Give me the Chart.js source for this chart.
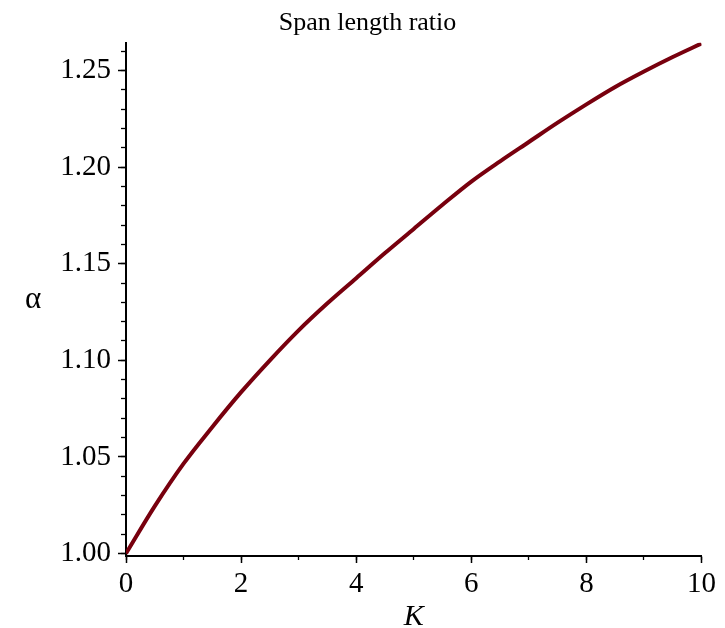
<!DOCTYPE html>
<html>
<head>
<meta charset="utf-8">
<script src="https://cdn.jsdelivr.net/npm/chart.js@4.4.1/dist/chart.umd.min.js"></script>
<style>
html,body{margin:0;padding:0;background:#fff;}
#wrap{width:725px;height:628px;}
</style>
</head>
<body>
<div id="wrap"><canvas id="c" width="725" height="628"></canvas></div>
<script>
// ---- data ----
const chartTitle = 'Span length ratio';
const xTitle = 'K';
const yTitle = 'α';
const kValues = [0, 0.5, 1, 1.5, 2, 2.5, 3, 3.5, 4, 4.5, 5, 5.5, 6, 6.5, 7, 7.5, 8, 8.5, 9, 9.5, 10];
const alphaValues = [1.000, 1.0245, 1.0465, 1.0655, 1.0835, 1.1000, 1.1155, 1.1295, 1.1425, 1.1555, 1.1680,
                     1.1805, 1.1925, 1.2030, 1.2130, 1.2230, 1.2325, 1.2415, 1.2495, 1.2570, 1.2640];
const xMajorTicks = [0, 2, 4, 6, 8, 10];
const xMinorTicks = [0, 1, 2, 3, 4, 5, 6, 7, 8, 9, 10];
const yMajorTicks = [1.00, 1.05, 1.10, 1.15, 1.20, 1.25];
const yMinorTicks = [1.00, 1.01, 1.02, 1.03, 1.04, 1.05, 1.06, 1.07, 1.08, 1.09, 1.10, 1.11, 1.12, 1.13,
                     1.14, 1.15, 1.16, 1.17, 1.18, 1.19, 1.20, 1.21, 1.22, 1.23, 1.24, 1.25, 1.26];

const FONT = '"Liberation Serif", "Times New Roman", serif';
const LINE_COLOR = '#78000E';
const X_MIN = 0, X_MAX = 10, Y_MIN = 0.9987, Y_MAX = 1.2644;

const setTicks = arr => scale => { scale.ticks = arr.map(v => ({ value: v })); };
const setPad = (s, r) => { s.paddingLeft = 0; s.paddingRight = r || 0; s.paddingTop = 0; s.paddingBottom = 0; };

const alphaLabel = {
  id: 'alphaLabel',
  afterDraw(chart) {
    const { ctx, chartArea } = chart;
    ctx.save();
    ctx.font = '31px ' + FONT;
    ctx.fillStyle = '#000';
    ctx.textAlign = 'center';
    ctx.textBaseline = 'middle';
    ctx.fillText(yTitle, 33, (chartArea.top + chartArea.bottom) / 2 + 1);
    ctx.restore();
  }
};

new Chart(document.getElementById('c'), {
  type: 'line',
  data: {
    datasets: [{
      data: kValues.map((k, i) => ({ x: k, y: alphaValues[i] })),
      borderColor: LINE_COLOR,
      backgroundColor: LINE_COLOR,
      borderWidth: 4,
      pointRadius: 0,
      cubicInterpolationMode: 'monotone',
      fill: false,
      xAxisID: 'x',
      yAxisID: 'y'
    }]
  },
  options: {
    responsive: false,
    animation: false,
    devicePixelRatio: 1,
    layout: { padding: { left: 10, right: 0, top: 0, bottom: 0 } },
    plugins: {
      legend: { display: false },
      tooltip: { enabled: false },
      title: {
        display: true,
        text: chartTitle,
        color: '#000',
        font: { family: FONT, size: 26, weight: 'normal', lineHeight: 1.2 },
        padding: { top: 7.3, bottom: 4.2 }
      }
    },
    scales: {
      x: {
        type: 'linear', position: 'bottom', weight: 1,
        min: X_MIN, max: X_MAX,
        afterBuildTicks: setTicks(xMajorTicks),
        ticks: { color: '#000', font: { family: FONT, size: 29 }, padding: 4, maxRotation: 0, autoSkip: false,
                 callback: v => String(v) },
        grid: { drawOnChartArea: false, drawTicks: true, tickLength: 7, tickColor: '#000', tickWidth: 1.5 },
        border: { display: true, color: '#000', width: 2 },
        title: { display: true, text: xTitle, color: '#000',
                 font: { family: FONT, size: 30, style: 'italic', lineHeight: 0.7 }, padding: 0 },
        afterFit: s => { s.height = 72; setPad(s, 23.5); }
      },
      xm: {
        type: 'linear', position: 'bottom', weight: 0,
        min: X_MIN, max: X_MAX,
        afterBuildTicks: setTicks(xMinorTicks),
        ticks: { display: false },
        grid: { drawOnChartArea: false, drawTicks: true, tickLength: 4, tickColor: '#000', tickWidth: 1.3 },
        border: { display: false },
        afterFit: s => { s.height = 0; setPad(s, 0); }
      },
      y: {
        type: 'linear', position: 'left', weight: 1,
        min: Y_MIN, max: Y_MAX,
        afterBuildTicks: setTicks(yMajorTicks),
        ticks: { color: '#000', font: { family: FONT, size: 29 }, padding: 7, autoSkip: false,
                 callback: v => v.toFixed(2) },
        grid: { drawOnChartArea: false, drawTicks: true, tickLength: 8, tickColor: '#000', tickWidth: 1.5 },
        border: { display: true, color: '#000', width: 2 },
        afterFit: s => { s.width = 116; setPad(s, 0); }
      },
      ym: {
        type: 'linear', position: 'left', weight: 0,
        min: Y_MIN, max: Y_MAX,
        afterBuildTicks: setTicks(yMinorTicks),
        ticks: { display: false },
        grid: { drawOnChartArea: false, drawTicks: true, tickLength: 5, tickColor: '#000', tickWidth: 1.3 },
        border: { display: false },
        afterFit: s => { s.width = 0; setPad(s, 0); }
      }
    }
  },
  plugins: [alphaLabel]
});
</script>
</body>
</html>
